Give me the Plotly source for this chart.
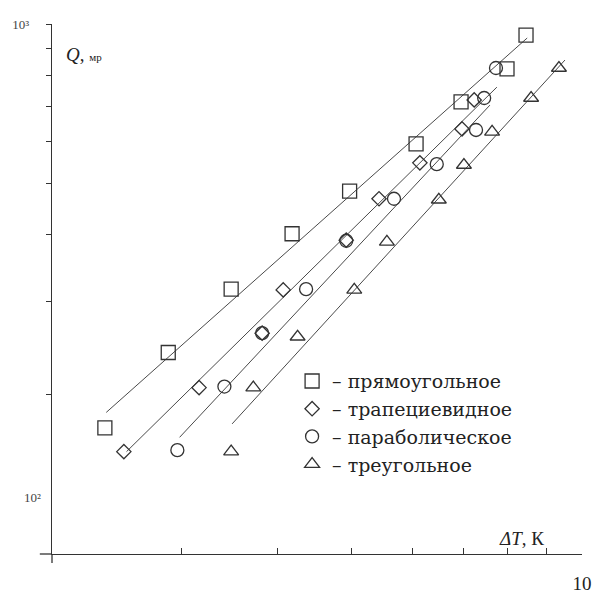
import plotly.graph_objects as go
import math

# ---- data ----
sq_x = [2.38, 2.88, 3.48, 4.18, 4.97, 6.07, 6.95, 7.98, 8.45]
sq_y = [173, 240, 316, 402, 484, 594, 713, 823, 953]

di_x = [2.52, 3.16, 3.82, 4.07, 4.92, 5.43, 6.14, 6.97, 7.23]
di_y = [156, 206, 261, 315, 391, 468, 547, 634, 719]

ci_x = [2.96, 3.41, 3.82, 4.36, 4.92, 5.68, 6.46, 7.27, 7.45, 7.72]
ci_y = [157, 207, 261, 316, 390, 468, 544, 631, 725, 826]

tr_x = [3.48, 3.72, 4.25, 5.04, 5.56, 6.50, 7.01, 7.63, 8.58, 9.33]
tr_y = [156, 206, 257, 315, 388, 466, 542, 626, 725, 826]

# fitted straight lines (end points)
sq_fit_x = [2.39, 8.48]
sq_fit_y = [185, 941]
di_fit_x = [2.54, 7.74]
di_fit_y = [156, 760]
ci_fit_x = [2.98, 7.58]
ci_fit_y = [166, 703]
tr_fit_x = [3.49, 9.50]
tr_fit_y = [176, 855]

names = ["– прямоугольное", "– трапециевидное", "– параболическое", "– треугольное"]

x_tickvals = [3, 4, 5, 6, 7, 8, 9, 10]
x_ticktext = ["", "", "", "", "", "", "", "10"]
y_tickvals = [200, 300, 400, 500, 600, 700, 800, 900, 1000]
y_ticktext = ["", "", "", "", "", "", "", "", "10³"]

SERIF = "Liberation Serif, Times New Roman, serif"
WIDE_SERIF = "DejaVu Serif, Liberation Serif, serif"
INK = "#333333"
LINE = "#4a4a4a"

fig = go.Figure()

for fx, fy in [(sq_fit_x, sq_fit_y), (di_fit_x, di_fit_y), (ci_fit_x, ci_fit_y), (tr_fit_x, tr_fit_y)]:
    fig.add_trace(go.Scatter(x=fx, y=fy, mode="lines", showlegend=False,
                             line=dict(color=LINE, width=1), hoverinfo="skip"))

series = [
    (sq_x, sq_y, "square-open", 14),
    (di_x, di_y, "diamond-open", 11),
    (ci_x, ci_y, "circle-open", 13),
    (tr_x, tr_y, "triangle-up-open", 13),
]
for (sx, sy, sym, size), nm in zip(series, names):
    fig.add_trace(go.Scatter(x=sx, y=sy, mode="markers", name=nm,
                             marker=dict(symbol=sym, size=size, color=INK,
                                         line=dict(color=INK, width=1.3))))

fig.update_layout(
    width=598, height=595,
    margin=dict(l=52, r=16, t=24, b=41),
    paper_bgcolor="white", plot_bgcolor="white",
    font=dict(family=SERIF, color=INK),
    showlegend=True,
    legend=dict(x=0.453, y=0.362, xanchor="left", yanchor="top",
                bgcolor="rgba(0,0,0,0)", font=dict(family=WIDE_SERIF, size=19, color="#222"),
                tracegroupgap=0, itemwidth=30),
    xaxis=dict(type="log", range=[math.log10(2.03), 1], showgrid=False, zeroline=False,
               showline=True, linecolor=INK, linewidth=1.3, automargin=False,
               ticks="inside", ticklen=6, tickcolor=INK, tickwidth=1.2,
               tickvals=x_tickvals, ticktext=x_ticktext,
               tickfont=dict(family=SERIF, size=19, color="#222"),
               ticklabelstandoff=12),
    yaxis=dict(type="log", range=[2, 3], showgrid=False, zeroline=False,
               showline=True, linecolor=INK, linewidth=1.3, automargin=False,
               ticks="outside", ticklen=5, tickcolor=INK, tickwidth=1.2,
               tickvals=y_tickvals, ticktext=y_ticktext,
               tickfont=dict(family=SERIF, size=13, color="#444"),
               ticklabelstandoff=14),
    shapes=[
        dict(type="line", xref="paper", yref="paper", x0=-0.023, x1=0, y0=0, y1=0,
             line=dict(color=INK, width=1.3)),
        dict(type="line", xref="paper", yref="paper", x0=0, x1=0, y0=-0.017, y1=0,
             line=dict(color=INK, width=1.3)),
    ],
    annotations=[
        dict(text="10²", xref="paper", yref="paper", x=-0.057, y=0.089,
             showarrow=False, font=dict(family=SERIF, size=13, color="#444")),
        dict(text="<i>Q</i>, <span style='font-size:11px'>мр</span>", xref="paper", yref="paper",
             x=0.022, y=0.943, xanchor="left", yanchor="middle", showarrow=False,
             font=dict(family=SERIF, size=19, color="#222")),
        dict(text="<i>ΔT</i>, К", xref="paper", yref="paper",
             x=0.84, y=0.03, xanchor="left", yanchor="middle", showarrow=False,
             font=dict(family=SERIF, size=19, color="#222")),
    ],
)

fig.write_html("out.html")
